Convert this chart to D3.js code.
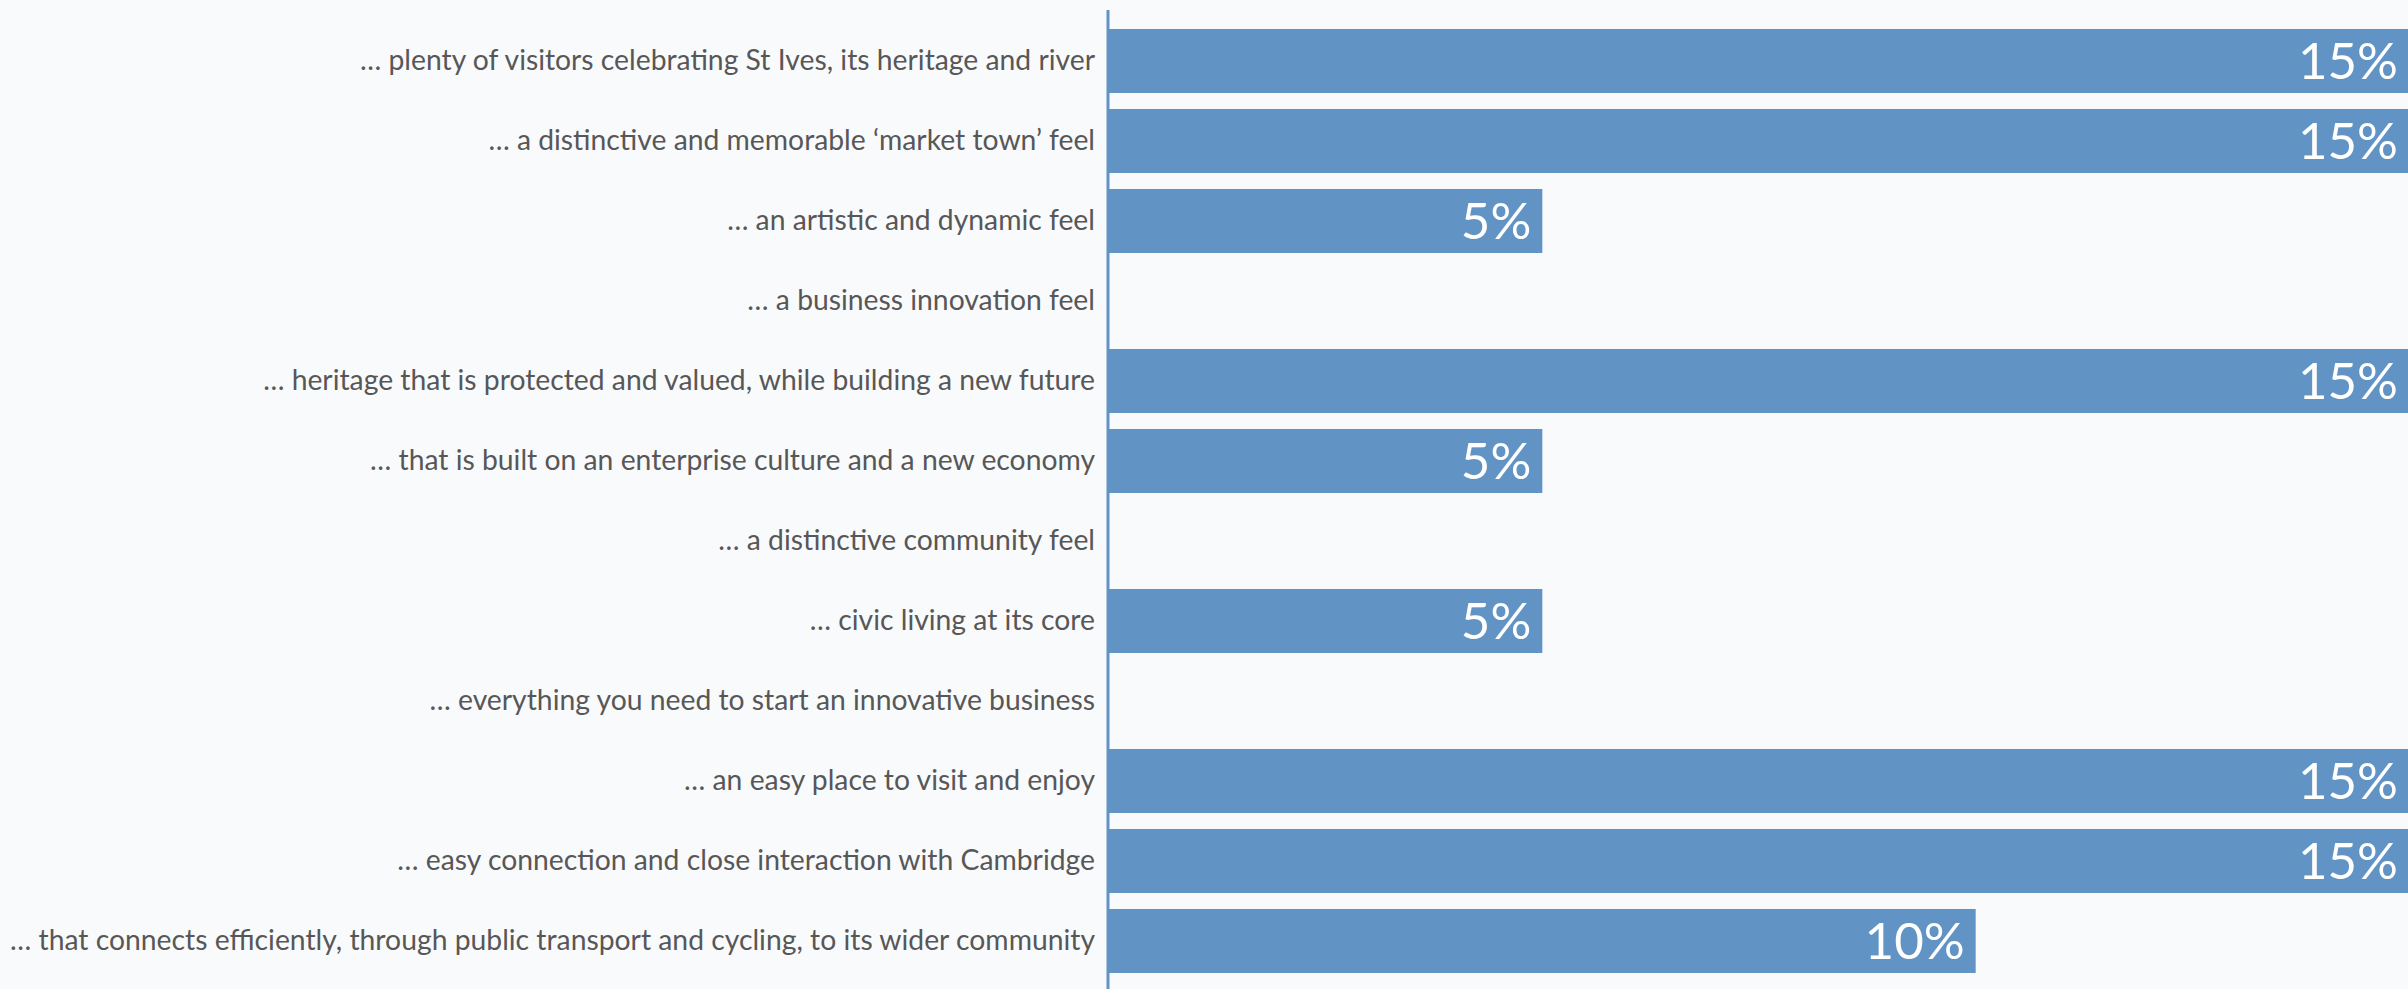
<!DOCTYPE html>
<html>
<head>
<meta charset="utf-8">
<script src="https://cdn.jsdelivr.net/npm/d3@7"></script>
<style>
  html, body { margin: 0; padding: 0; background: #f9fafc; overflow: hidden; }
  svg { display: block; }
</style>
</head>
<body>
<svg id="chart" width="2408" height="989"></svg>
<script>
// Answer options, top to bottom
const categories = [
  "… plenty of visitors celebrating St Ives, its heritage and river",
  "… a distinctive and memorable ‘market town’ feel",
  "… an artistic and dynamic feel",
  "… a business innovation feel",
  "… heritage that is protected and valued, while building a new future",
  "… that is built on an enterprise culture and a new economy",
  "… a distinctive community feel",
  "… civic living at its core",
  "… everything you need to start an innovative business",
  "… an easy place to visit and enjoy",
  "… easy connection and close interaction with Cambridge",
  "… that connects efficiently, through public transport and cycling, to its wider community"
];
// Share of respondents (%)
const values = [15, 15, 5, 0, 15, 5, 0, 5, 0, 15, 15, 10];

const data = categories.map((c, i) => ({ label: c, value: values[i] }));

const svg = d3.select("#chart");
const W = 2408, H = 989;
const axisX = 1109;

const x = d3.scaleLinear().domain([0, 15]).range([axisX, W + 1]);
const y = d3.scaleBand()
  .domain(categories)
  .range([21, 981])
  .paddingInner(0.2)
  .paddingOuter(0.1);

const barColor = "#6293c5";

// bars
svg.append("g")
  .selectAll("rect")
  .data(data)
  .join("rect")
  .attr("x", x(0))
  .attr("y", d => y(d.label))
  .attr("width", d => x(d.value) - x(0))
  .attr("height", y.bandwidth())
  .attr("fill", barColor);

// value labels inside bar ends
svg.append("g")
  .selectAll("text")
  .data(data.filter(d => d.value > 0))
  .join("text")
  .attr("x", d => x(d.value) - 11)
  .attr("y", d => y(d.label) + y.bandwidth() / 2)
  .attr("dy", "0.36em")
  .attr("text-anchor", "end")
  .attr("fill", "#ffffff")
  .style("font-family", "Lato, 'Open Sans', sans-serif")
  .style("font-size", "51px")
  .text(d => d.value + "%");

// category axis
const axis = d3.axisLeft(y).tickSize(0).tickPadding(14);
const gAxis = svg.append("g")
  .attr("transform", `translate(${axisX},0)`)
  .call(axis);
gAxis.select(".domain").remove();
gAxis.selectAll("text")
  .attr("fill", "#575757")
  .style("font-family", "Lato, 'Open Sans', sans-serif")
  .style("font-size", "28.3px");

// vertical baseline
svg.append("line")
  .attr("x1", axisX - 1).attr("x2", axisX - 1)
  .attr("y1", 10).attr("y2", H)
  .attr("stroke", barColor)
  .attr("stroke-width", 3);
</script>
</body>
</html>
